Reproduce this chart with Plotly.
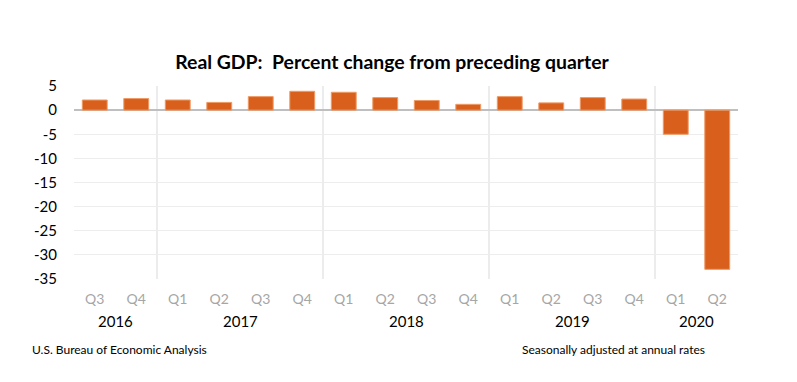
import plotly.graph_objects as go

years = ["2016", "2016", "2017", "2017", "2017", "2017", "2018", "2018", "2018", "2018",
         "2019", "2019", "2019", "2019", "2020", "2020"]
quarters = ["Q3", "Q4", "Q1", "Q2", "Q3", "Q4", "Q1", "Q2", "Q3", "Q4",
            "Q1", "Q2", "Q3", "Q4", "Q1", "Q2"]
gdp_change = [2.1, 2.4, 2.1, 1.6, 2.8, 3.9, 3.7, 2.6, 2.0, 1.2,
              2.8, 1.5, 2.6, 2.3, -5.0, -33.0]
y_ticks = [5, 0, -5, -10, -15, -20, -25, -30, -35]

FONT = "Lato"
idx = list(range(len(gdp_change)))

fig = go.Figure()
fig.add_trace(go.Bar(
    x=idx, y=gdp_change, width=0.6,
    marker=dict(color="#D9601C", line=dict(color="#EE9A66", width=1)),
    hoverinfo="y",
))

# year group labels and separators, derived from the data
groups = []
for i, yv in enumerate(years):
    if not groups or groups[-1][0] != yv:
        groups.append([yv, i, i])
    else:
        groups[-1][2] = i

annotations = []
shapes = []
for g, (yv, a, b) in enumerate(groups):
    annotations.append(dict(x=(a + b) / 2, y=-0.217, xref="x", yref="paper",
                            text=yv, showarrow=False, yanchor="middle",
                            font=dict(family=FONT, size=15, color="#000000")))
    if g > 0:
        shapes.append(dict(type="line", x0=a - 0.5, x1=a - 0.5, xref="x",
                           y0=0, y1=1, yref="paper",
                           line=dict(color="#D9D9D9", width=1), layer="below"))

annotations.append(dict(text="U.S. Bureau of Economic Analysis", showarrow=False,
                        xref="paper", yref="paper", x=-0.0663, y=-0.367,
                        xanchor="left", yanchor="middle",
                        font=dict(family=FONT, size=12, color="#000")))
annotations.append(dict(text="Seasonally adjusted at annual rates", showarrow=False,
                        xref="paper", yref="paper", x=0.953, y=-0.367,
                        xanchor="right", yanchor="middle",
                        font=dict(family=FONT, size=12, color="#000")))

# the page adds an 8px body margin, so the figure is offset by 8px
fig.update_layout(
    width=797, height=382,
    margin=dict(l=66, r=67, t=78, b=111),
    paper_bgcolor="white", plot_bgcolor="white",
    title=dict(text="<b>Real GDP:  Percent change from preceding quarter</b>",
               x=(384 - 0) / 797, xanchor="center", y=1 - 54 / 382, yanchor="middle",
               font=dict(family=FONT, size=19.4, color="#000")),
    showlegend=False,
    annotations=annotations,
    shapes=shapes,
    font=dict(family=FONT),
)
fig.update_xaxes(
    range=[-0.5, len(idx) - 0.5], tickvals=idx, ticktext=quarters,
    tickfont=dict(family=FONT, size=14, color="#A6A6A6"),
    showgrid=False, zeroline=False, showline=False, ticks="",
    ticklabelstandoff=10,
)
fig.update_yaxes(
    range=[-35, 5], tickvals=y_ticks, ticktext=[str(v) for v in y_ticks],
    tickfont=dict(family=FONT, size=15, color="#000"),
    showgrid=True, gridcolor="#EDEDED", gridwidth=1,
    zeroline=True, zerolinecolor="#BFBFBF", zerolinewidth=2,
    showline=False, ticks="", ticklabelstandoff=16,
)

fig.write_html("out.html")
